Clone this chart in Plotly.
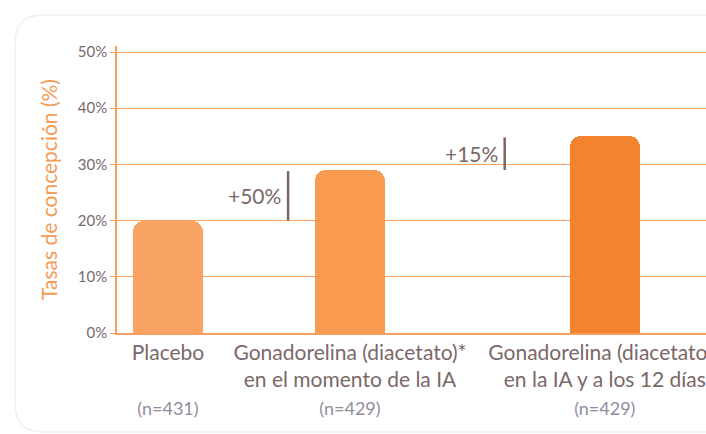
import plotly.graph_objects as go

# données
categories = ["Placebo",
              "Gonadorelina (diacetato)*<br>en el momento de la IA",
              "Gonadorelina (diacetato)*<br>en la IA y a los 12 días"]
n_labels = ["(n=431)", "(n=429)", "(n=429)"]
rates = [20, 29, 35]
increments = ["+50%", "+15%"]
y_ticks = [0, 10, 20, 30, 40, 50]
y_ticktext = ["0%", "10%", "20%", "30%", "40%", "50%"]

# mise en page (positions sur l'axe x numérique)
bar_pos = [0, 1, 2.4]
bar_colors = ["#F9A462", "#F89A4F", "#F3832E"]
step_pos = [0.66, 1.85]

W, H = 706, 434
L, R, T, B = 117, 0, 46, 101
ORANGE = "#F5A05E"
TXT = "#7A6868"
NCOL = "#8E8E9C"

ticktext = []
for cat, n in zip(categories, n_labels):
    lines = cat.split("<br>")
    if len(lines) == 1:
        lines.append(" ")
    ticktext.append("<br>".join(lines) + f"<br><span style='color:{NCOL};font-size:18px'>{n}</span>")

fig = go.Figure()
fig.add_trace(go.Bar(
    x=bar_pos, y=rates, width=0.385,
    marker=dict(color=bar_colors, cornerradius=11, line=dict(width=0)),
    hoverinfo="skip", showlegend=False,
))

# barres d'écart + texte
for i, (xp, txt) in enumerate(zip(step_pos, increments)):
    y0, y1 = rates[i], rates[i + 1]
    fig.add_shape(type="line", x0=xp, x1=xp, y0=y0, y1=y1 - 0.2,
                  line=dict(color="#7D6565", width=2.5))
    fig.add_annotation(x=xp, y=(y0 + y1) / 2, text=txt, showarrow=False,
                       xanchor="right", xshift=-5, yshift=0,
                       font=dict(size=21, color=TXT, family="Lato"))

# cadre de la carte
pw, ph = W - L - R, H - T - B
def px(x): return (x - L) / pw
def py(y): return (H - B - y) / ph
cx0, cy0, cx1, cy1, r = 15, 15, 740, 432, 28
path = (f"M {px(cx0)},{py(cy0 + r)} "
        f"Q {px(cx0)},{py(cy0)} {px(cx0 + r)},{py(cy0)} "
        f"L {px(cx1)},{py(cy0)} L {px(cx1)},{py(cy1)} "
        f"L {px(cx0 + r)},{py(cy1)} "
        f"Q {px(cx0)},{py(cy1)} {px(cx0)},{py(cy1 - r)} Z")
fig.add_shape(type="path", xref="paper", yref="paper", path=path,
              line=dict(color="#F1F1F1", width=1.5), fillcolor="rgba(0,0,0,0)",
              layer="below")

fig.update_xaxes(
    range=[-0.28, (706 - 168) / 182],
    tickvals=bar_pos, ticktext=ticktext, ticklabeloverflow="allow",
    automargin=False,
    tickfont=dict(size=21, color=TXT, family="Lato"),
    showline=True, linecolor=ORANGE, linewidth=1.5,
    showgrid=False, zeroline=False, ticks="",
)
fig.update_yaxes(
    range=[0, 51.07], tickvals=y_ticks, ticktext=y_ticktext,
    tickfont=dict(size=15, color=TXT, family="Lato"),
    showgrid=True, gridcolor=ORANGE, gridwidth=1.2,
    showline=True, linecolor=ORANGE, linewidth=1.5,
    ticks="outside", ticklen=5, tickcolor=ORANGE, tickwidth=1.2,
    zeroline=False, automargin=False,
    title=dict(text="Tasas de concepción (%)", standoff=14,
               font=dict(size=21, color="#F39A55", family="Lato")),
)
fig.update_layout(
    width=W, height=H,
    margin=dict(l=L, r=R, t=T, b=B),
    paper_bgcolor="white", plot_bgcolor="white",
    font=dict(family="Lato"),
    bargap=0,
)
# pas de marge autour du graphique dans la page
fig.write_html("out.html", config={"displayModeBar": False},
               post_script="document.body.style.margin='0';")
